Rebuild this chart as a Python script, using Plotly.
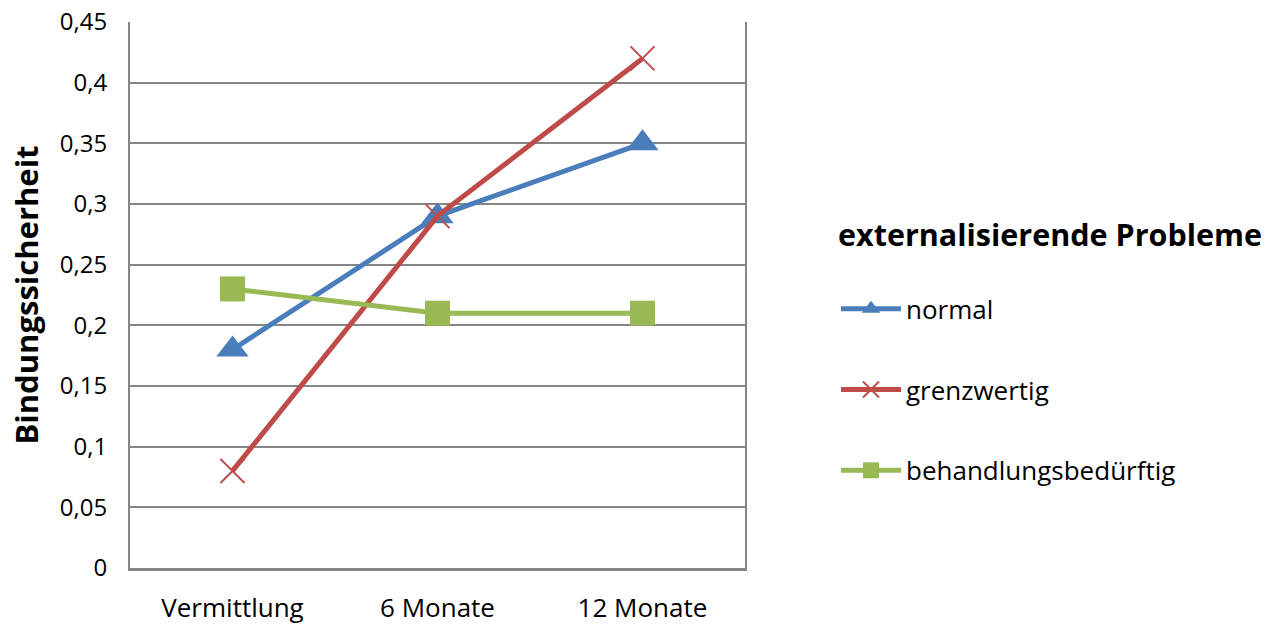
import plotly.graph_objects as go

# Zeitpunkte und Mittelwerte der Bindungssicherheit je Gruppe
zeitpunkte = ["Vermittlung", "6 Monate", "12 Monate"]
normal = [0.18, 0.29, 0.35]
grenzwertig = [0.08, 0.29, 0.42]
behandlungsbeduerftig = [0.23, 0.21, 0.21]
y_ticks = [0, 0.05, 0.1, 0.15, 0.2, 0.25, 0.3, 0.35, 0.4, 0.45]
y_tick_text = ["0", "0,05", "0,1", "0,15", "0,2", "0,25", "0,3", "0,35", "0,4", "0,45"]

FONT = "Open Sans, sans-serif"
GRID = "#868686"

fig = go.Figure()
fig.add_trace(go.Scatter(
    x=zeitpunkte, y=normal, name="normal", mode="lines+markers",
    line=dict(color="#4A7EBB", width=5),
    marker=dict(symbol="triangle-up", size=28, color="#4A7EBB"),
    legendgroup="a",
))
fig.add_trace(go.Scatter(
    x=zeitpunkte, y=grenzwertig, name="grenzwertig", mode="lines+markers",
    line=dict(color="#BE4B48", width=5),
    marker=dict(symbol="x-thin", size=24, color="#BE4B48",
                line=dict(color="#BE4B48", width=2)),
    legendgroup="b",
))
fig.add_trace(go.Scatter(
    x=zeitpunkte, y=behandlungsbeduerftig, name="behandlungsbedürftig",
    mode="lines+markers",
    line=dict(color="#98B954", width=5),
    marker=dict(symbol="square", size=25, color="#98B954"),
    legendgroup="c",
))

fig.update_layout(
    width=1272, height=626,
    margin=dict(l=130, r=527, t=22, b=58, autoexpand=False),
    paper_bgcolor="white", plot_bgcolor="white",
    font=dict(family=FONT, size=24, color="black"),
    showlegend=True,
    legend=dict(
        title=dict(text="<b>externalisierende Probleme</b><br> ",
                   font=dict(size=30.5, family=FONT)),
        xref="container", yref="container",
        x=836 / 1272, y=1 - 206 / 626, xanchor="left", yanchor="top",
        font=dict(size=26, family=FONT),
        tracegroupgap=44,
        itemwidth=60,
        bgcolor="rgba(0,0,0,0)",
    ),
    xaxis=dict(
        type="category", range=[-0.5, 2.5], automargin=False,
        showgrid=False, showline=True, linecolor=GRID, linewidth=3,
        ticks="outside", ticklen=0, ticklabelstandoff=15,
        tickfont=dict(size=26, family=FONT),
        fixedrange=True,
    ),
    yaxis=dict(
        range=[0, 0.45], tickvals=y_ticks, ticktext=y_tick_text,
        automargin=False,
        showgrid=True, gridcolor=GRID, gridwidth=2,
        showline=True, linecolor=GRID, linewidth=2, mirror=True,
        zeroline=False,
        ticks="outside", ticklen=0, ticklabelstandoff=16,
        tickfont=dict(size=24, family=FONT),
        title=dict(text="<b>Bindungssicherheit</b>",
                   font=dict(size=31, family=FONT), standoff=12),
        fixedrange=True,
    ),
)

fig.write_html("out.html")
